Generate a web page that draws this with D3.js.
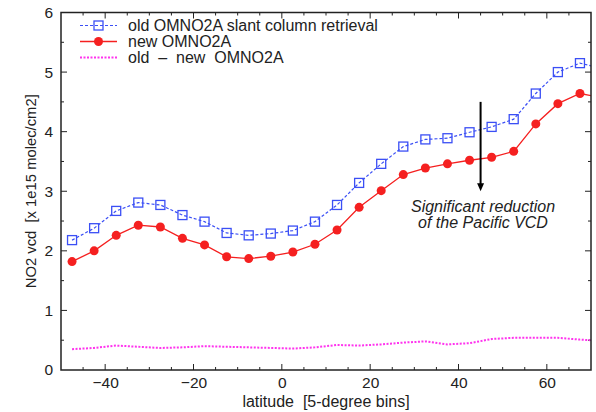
<!DOCTYPE html>
<html><head><meta charset="utf-8">
<script src="https://cdn.jsdelivr.net/npm/d3@7"></script>
<style>
html,body{margin:0;padding:0;background:#fff;}
svg{display:block;}
text{font-family:"Liberation Sans",Arial,Helvetica,sans-serif;fill:#222;}
</style></head>
<body>
<svg id="chart" width="596" height="412"></svg>
<script>
// Data (latitude bin centres, 5-degree bins)
const latitudes = [-47.5,-42.5,-37.5,-32.5,-27.5,-22.5,-17.5,-12.5,-7.5,-2.5,2.5,7.5,12.5,17.5,22.5,27.5,32.5,37.5,42.5,47.5,52.5,57.5,62.5,67.5,72.5];
const oldVcd = [2.18,2.38,2.67,2.81,2.77,2.60,2.49,2.30,2.26,2.29,2.34,2.49,2.77,3.14,3.46,3.75,3.87,3.89,3.99,4.08,4.21,4.64,5.00,5.15,5.06];
const newVcd = [1.82,2.00,2.26,2.43,2.40,2.21,2.10,1.90,1.87,1.91,1.98,2.11,2.35,2.73,3.01,3.28,3.39,3.46,3.52,3.57,3.67,4.13,4.47,4.64,4.57];
const diffVcd = [0.35,0.37,0.41,0.39,0.37,0.38,0.40,0.39,0.38,0.37,0.36,0.38,0.42,0.41,0.43,0.46,0.48,0.43,0.45,0.52,0.54,0.54,0.54,0.51,0.49];
const xTicks = [-40,-20,0,20,40,60];
const yTicks = [0,1,2,3,4,5,6];
const legendLabels = ["old OMNO2A slant column retrieval","new OMNO2A","old  \u2013  new  OMNO2A"];
const annotationLines = ["Significant reduction","of the Pacific VCD"];
const arrowLat = 45, arrowFrom = 4.5, arrowTo = 3.0;

const svg = d3.select("#chart");
const L = 61, R = 591, T = 12.5, B = 370;
const x = d3.scaleLinear().domain([-50,70]).range([L,R]);
const y = d3.scaleLinear().domain([0,6]).range([B,T]);

const blue = "#3b4ff5", red = "#f52020", magenta = "#ff33ee";

svg.append("defs").append("clipPath").attr("id","clip")
  .append("rect").attr("x",L).attr("y",T).attr("width",R-L).attr("height",B-T);

// ticks (inward, all four sides)
const minorX = d3.range(-45,70,5);
const minorY = d3.range(0.5,6,0.5);
const tk = svg.append("g").attr("stroke","#222").attr("stroke-width",1);
minorX.forEach(v=>{
  const len = (v%20===0)?6:3;
  tk.append("line").attr("x1",x(v)).attr("x2",x(v)).attr("y1",B).attr("y2",B-len);
  tk.append("line").attr("x1",x(v)).attr("x2",x(v)).attr("y1",T).attr("y2",T+len);
});
minorY.forEach(v=>{
  const len = (v%1===0)?6:3;
  tk.append("line").attr("y1",y(v)).attr("y2",y(v)).attr("x1",L).attr("x2",L+len);
  tk.append("line").attr("y1",y(v)).attr("y2",y(v)).attr("x1",R).attr("x2",R-len);
});

// axes labels via d3 axes (ticks hidden, labels only)
const xAxis = svg.append("g").attr("transform",`translate(0,${B})`)
  .call(d3.axisBottom(x).tickValues(xTicks).tickSize(0).tickPadding(7).tickFormat(d3.format("d")));
xAxis.select(".domain").remove();
xAxis.selectAll("text").attr("font-size",15.5).attr("fill","#222").attr("font-family","Liberation Sans, Arial, sans-serif");
const yAxis = svg.append("g").attr("transform",`translate(${L},0)`)
  .call(d3.axisLeft(y).tickValues(yTicks).tickSize(0).tickPadding(8).tickFormat(d3.format("d")));
yAxis.select(".domain").remove();
yAxis.selectAll("text").attr("font-size",15.5).attr("fill","#222").attr("font-family","Liberation Sans, Arial, sans-serif");

svg.append("text").attr("x",(L+R)/2).attr("y",407).attr("text-anchor","middle")
  .attr("font-size",16).attr("xml:space","preserve").text("latitude  [5-degree bins]");
svg.append("text").attr("transform",`translate(36,${(T+B)/2}) rotate(-90)`).attr("text-anchor","middle")
  .attr("font-size",14.8).attr("xml:space","preserve").text("NO2 vcd  [x 1e15 molec/cm2]");

// series
const plot = svg.append("g").attr("clip-path","url(#clip)");
const line = vals => d3.line().x((d,i)=>x(latitudes[i])).y(d=>y(d))(vals);

plot.append("path").attr("d",line(diffVcd)).attr("fill","none").attr("stroke",magenta)
  .attr("stroke-width",2).attr("stroke-dasharray","2,1.5");

plot.append("path").attr("d",line(oldVcd)).attr("fill","none").attr("stroke",blue)
  .attr("stroke-width",1.2).attr("stroke-dasharray","3,2");
plot.selectAll(".sq").data(oldVcd).enter().append("rect")
  .attr("x",(d,i)=>x(latitudes[i])-4.5).attr("y",d=>y(d)-4.5).attr("width",9).attr("height",9)
  .attr("fill","none").attr("stroke",blue).attr("stroke-width",1.3);

plot.append("path").attr("d",line(newVcd)).attr("fill","none").attr("stroke",red).attr("stroke-width",1.3);
plot.selectAll(".dot").data(newVcd).enter().append("circle")
  .attr("cx",(d,i)=>x(latitudes[i])).attr("cy",d=>y(d)).attr("r",4.5).attr("fill",red);

// arrow annotation
svg.append("line").attr("x1",x(arrowLat)).attr("x2",x(arrowLat)).attr("y1",y(arrowFrom)).attr("y2",y(arrowTo)-6)
  .attr("stroke","#000").attr("stroke-width",2);
svg.append("path").attr("d",`M${x(arrowLat)-3.5},${y(arrowTo)-8} L${x(arrowLat)+3.5},${y(arrowTo)-8} L${x(arrowLat)},${y(arrowTo)} Z`).attr("fill","#000");
annotationLines.forEach((t,i)=>{
  svg.append("text").attr("x",483).attr("y",212+i*16).attr("text-anchor","middle")
    .attr("font-size",16).attr("font-style","italic").text(t);
});

// legend
const lg = svg.append("g");
const lx1 = 80, lx2 = 117, lmid = 98.5, ly0 = 25.5, ldy = 16;
lg.append("line").attr("x1",lx1).attr("x2",lx2).attr("y1",ly0).attr("y2",ly0).attr("stroke",blue).attr("stroke-width",1.2).attr("stroke-dasharray","3,2");
lg.append("rect").attr("x",lmid-4.5).attr("y",ly0-4.5).attr("width",9).attr("height",9).attr("fill","none").attr("stroke",blue).attr("stroke-width",1.3);
lg.append("line").attr("x1",lx1).attr("x2",lx2).attr("y1",ly0+ldy).attr("y2",ly0+ldy).attr("stroke",red).attr("stroke-width",1.3);
lg.append("circle").attr("cx",lmid).attr("cy",ly0+ldy).attr("r",4.5).attr("fill",red);
lg.append("line").attr("x1",lx1).attr("x2",lx2).attr("y1",ly0+2*ldy).attr("y2",ly0+2*ldy).attr("stroke",magenta).attr("stroke-width",2).attr("stroke-dasharray","2,1.5");
legendLabels.forEach((t,i)=>{
  lg.append("text").attr("x",128).attr("y",ly0+i*ldy+5.5).attr("font-size",16).attr("xml:space","preserve").text(t);
});

// frame
svg.append("rect").attr("x",L).attr("y",T).attr("width",R-L).attr("height",B-T)
  .attr("fill","none").attr("stroke","#222").attr("stroke-width",1.5);
</script>
</body></html>
